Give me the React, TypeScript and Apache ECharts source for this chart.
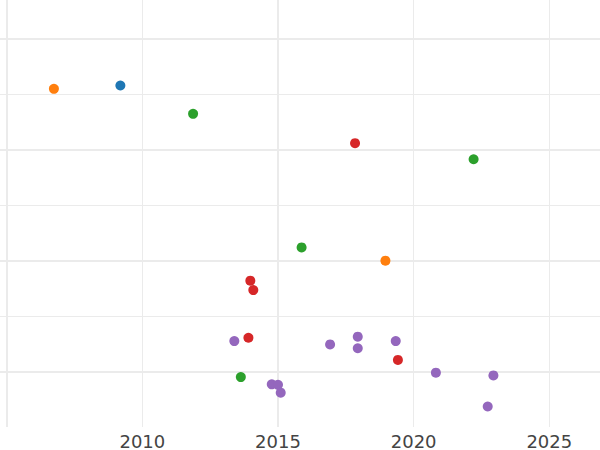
import React, { useEffect, useRef } from "react";
import * as echarts from "echarts";

// x: year, y: value (unlabelled axis)
const blueSeries: [number, number][] = [[2009.19, 5.16]];
const orangeSeries: [number, number][] = [
  [2006.74, 5.1],
  [2018.96, 2.0],
];
const greenSeries: [number, number][] = [
  [2011.87, 4.65],
  [2022.21, 3.83],
  [2015.87, 2.24],
  [2013.63, -0.1],
];
const redSeries: [number, number][] = [
  [2017.84, 4.12],
  [2013.98, 1.64],
  [2014.09, 1.47],
  [2013.91, 0.61],
  [2019.42, 0.21],
];
const purpleSeries: [number, number][] = [
  [2013.39, 0.55],
  [2016.92, 0.49],
  [2017.94, 0.63],
  [2017.94, 0.42],
  [2019.34, 0.55],
  [2020.82, -0.02],
  [2022.94, -0.07],
  [2014.77, -0.23],
  [2015.0, -0.24],
  [2015.1, -0.38],
  [2022.73, -0.63],
];

const xTickLabels = [2010, 2015, 2020, 2025];
const xMajorGrid = [2005, 2015];
const xMinorGrid = [2010, 2020, 2025];
const yMajorGrid = [0, 2, 4, 6];
const yMinorGrid = [1, 3, 5];

const COLORS = {
  blue: "#1f77b4",
  orange: "#ff7f0e",
  green: "#2ca02c",
  red: "#d62728",
  purple: "#9467bd",
};

export default function App() {
  const ref = useRef<HTMLDivElement>(null);
  useEffect(() => {
    if (!ref.current) return;
    const chart = echarts.init(ref.current, undefined, { renderer: "svg" });
    const gridColor = "#ebebeb";
    const scatter = (name: string, data: [number, number][], color: string) => ({
      name,
      type: "scatter",
      data,
      symbolSize: 10,
      z: 3,
      itemStyle: { color, opacity: 1 },
    });
    chart.setOption({
      animation: false,
      backgroundColor: "#ffffff",
      grid: { left: 0, right: 0, top: 0, bottom: 22.5, containLabel: false },
      xAxis: {
        type: "value",
        min: 2004.753,
        max: 2026.869,
        axisLine: { show: false },
        axisTick: { show: false, customValues: xTickLabels },
        splitLine: { show: false },
        axisLabel: {
          customValues: xTickLabels,
          formatter: (v: number) => String(v),
          color: "#444444",
          fontSize: 18,
          fontFamily: "DejaVu Sans",
          margin: 5,
        },
      },
      yAxis: {
        type: "value",
        min: -1,
        max: 6.703,
        axisLine: { show: false },
        axisTick: { show: false },
        axisLabel: { show: false },
        splitLine: { show: false },
      },
      series: [
        {
          name: "grid",
          type: "scatter",
          data: [],
          z: 0,
          silent: true,
          markLine: {
            z: 0,
            silent: true,
            symbol: ["none", "none"],
            label: { show: false },
            emphasis: { disabled: true },
            animation: false,
            data: [
              ...xMajorGrid.map((v) => ({ xAxis: v, lineStyle: { color: gridColor, width: 2, type: "solid" } })),
              ...xMinorGrid.map((v) => ({ xAxis: v, lineStyle: { color: gridColor, width: 1, type: "solid" } })),
              ...yMajorGrid.map((v) => ({ yAxis: v, lineStyle: { color: gridColor, width: 2, type: "solid" } })),
              ...yMinorGrid.map((v) => ({ yAxis: v, lineStyle: { color: gridColor, width: 1, type: "solid" } })),
            ],
          },
        },
        scatter("blue", blueSeries, COLORS.blue),
        scatter("orange", orangeSeries, COLORS.orange),
        scatter("green", greenSeries, COLORS.green),
        scatter("red", redSeries, COLORS.red),
        scatter("purple", purpleSeries, COLORS.purple),
      ],
    });
    return () => chart.dispose();
  }, []);
  return (
    <div
      ref={ref}
      style={{ position: "fixed", left: 0, top: 0, width: 600, height: 450 }}
    />
  );
}
